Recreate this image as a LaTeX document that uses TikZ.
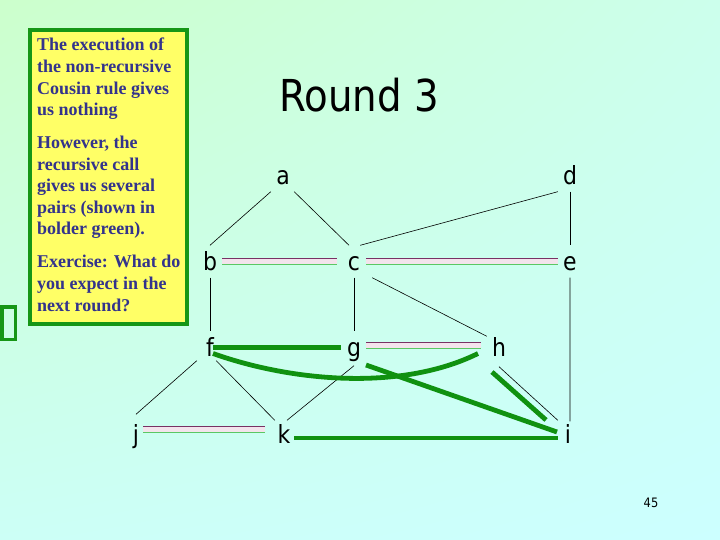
\documentclass[tikz,border=0pt]{standalone}
\usepackage{fontspec}
\setmainfont{Liberation Serif}
\newfontfamily\lblfont[FakeStretch=0.88]{DejaVu Sans}
\usetikzlibrary{shadings}
\definecolor{bgTL}{RGB}{204,255,204}
\definecolor{bgTR}{RGB}{204,255,236}
\definecolor{bgBL}{RGB}{204,255,246}
\definecolor{bgBR}{RGB}{204,255,255}
\definecolor{boxgreen}{RGB}{22,150,22}
\definecolor{boxyellow}{RGB}{255,255,102}
\definecolor{navytext}{RGB}{51,51,140}
\definecolor{boldgreen}{RGB}{16,145,16}
\definecolor{purp}{RGB}{120,50,100}
\definecolor{lgreen}{RGB}{90,200,100}
\definecolor{band}{RGB}{243,228,236}
\newcommand\sibpair[5]{%
  \fill[band] ([xshift=#4bp,yshift=#3bp+3bp]#1.east) rectangle ([xshift=#5bp,yshift=#3bp-3bp]#2.west);
  \draw[purp,line width=1.3bp] ([xshift=#4bp,yshift=#3bp+3bp]#1.east) -- ([xshift=#5bp,yshift=#3bp+3bp]#2.west);
  \draw[lgreen,line width=1.3bp] ([xshift=#4bp,yshift=#3bp-3bp]#1.east) -- ([xshift=#5bp,yshift=#3bp-3bp]#2.west);
}
\begin{document}
\begin{tikzpicture}[x=1bp,y=-1bp,
  vtx/.style={font=\lblfont\fontsize{25bp}{25bp}\selectfont, inner sep=0pt,
    minimum width=24bp, minimum height=32bp, text height=17.5bp, text depth=0pt},
  treeedge/.style={draw=black, line width=0.6bp},
  boldedge/.style={draw=boldgreen, line width=4.8bp},
  txt/.style={anchor=base west, inner sep=0pt, text=navytext,
    font=\bfseries\fontsize{18bp}{21.5bp}\selectfont}]
\useasboundingbox (0,0) rectangle (720,540);
\shade[upper left=bgTL, upper right=bgTR, lower left=bgBL, lower right=bgBR] (0,0) rectangle (720,540);

% yellow text box
\draw[boxgreen, line width=4bp, fill=boxyellow] (30,30) rectangle (186.5,323.5);
\node[txt] (t1) at (37,51) {The execution of};
\node[txt] (t2) at (37,73) {the non-recursive};
\node[txt] (t3) at (37,94.5) {Cousin rule gives};
\node[txt] (t4) at (37,116) {us nothing};
\node[txt] (t5) at (37,149) {However, the};
\node[txt] (t6) at (37,170.5) {recursive call};
\node[txt] (t7) at (37,192) {gives us several};
\node[txt] (t8) at (37,213.5) {pairs (shown in};
\node[txt] (t9) at (37,235) {bolder green).};
\node[txt] (t10) at (37,268) {Exercise: What do};
\node[txt] (t11) at (37,289.5) {you expect in the};
\node[txt] (t12) at (37,311) {next round?};

% small green box at left edge
\draw[boxgreen, line width=3.5bp] (1.75,307) rectangle (15.5,339.5);

% title
\node[font=\lblfont\fontsize{44bp}{44bp}\selectfont, inner sep=0pt] (title) at (359,95) {Round 3};

% vertices
\node[vtx] (a) at (283,175.5) {a};
\node[vtx] (d) at (570,175.5) {d};
\node[vtx] (b) at (210,261.5) {b};
\node[vtx] (c) at (354,261.5) {c};
\node[vtx] (e) at (570,261.5) {e};
\node[vtx] (f) at (210,347.5) {f};
\node[vtx] (g) at (354,347.5) {g};
\node[vtx] (h) at (499,347.5) {h};
\node[vtx] (j) at (136,434.5) {j};
\node[vtx] (k) at (284,434.5) {k};
\node[vtx] (i) at (568,434.5) {i};

% tree edges
\draw[treeedge] (a.south west) -- (b.north);
\draw[treeedge] ([xshift=-1bp]a.south east) -- ([xshift=-5bp]c.north);
\draw[treeedge] (d.south west) -- ([xshift=-6bp]c.north east);
\draw[treeedge] (d.south) -- (e.north);
\draw[treeedge] (b.south) -- (f.north);
\draw[treeedge] (c.south) -- (g.north);
\draw[treeedge] ([xshift=6bp]c.south east) -- ([yshift=-5bp]h.north west);
\draw[treeedge] (e.south) -- ([xshift=2bp,yshift=-3bp]i.north);
\draw[treeedge] ([xshift=-1bp,yshift=3bp]f.south west) -- ([yshift=4bp]j.north);
\draw[treeedge] ([xshift=-6bp,yshift=3bp]f.south east) -- ([xshift=3bp,yshift=-2bp]k.north west);
\draw[treeedge] ([yshift=-2bp]g.south) -- ([xshift=3bp,yshift=-2bp]k.north);
\draw[treeedge] ([yshift=-3bp]h.south) -- ([xshift=2bp,yshift=-2bp]i.north west);

% sibling pairs
\sibpair{b}{c}{0}{0}{-5}
\sibpair{c}{e}{0}{0}{0}
\sibpair{g}{h}{2}{0}{-6}
\sibpair{j}{k}{5}{-5}{-7}

% bolder green pairs
\draw[boldedge] ([xshift=3bp]f.center) -- ([xshift=-13bp]g.center);
\draw[boldedge] ([xshift=3bp,yshift=-6bp]f.center) .. controls (290,381) and (400,392) .. ([xshift=-21bp,yshift=-6bp]h.center);
\draw[boldedge] ([xshift=12bp,yshift=-17.5bp]g.center) -- ([xshift=-11bp,yshift=2.5bp]i.center);
\draw[boldedge] ([xshift=-7bp,yshift=-24.5bp]h.center) -- ([xshift=-22bp,yshift=14.5bp]i.center);
\draw[boldedge] ([xshift=10bp,yshift=-3.5bp]k.center) -- ([xshift=-10bp,yshift=-3.5bp]i.center);

% page number
\node[font=\lblfont\fontsize{13bp}{13bp}\selectfont, inner sep=0pt] (pg) at (651,503) {45};
\end{tikzpicture}
\end{document}
